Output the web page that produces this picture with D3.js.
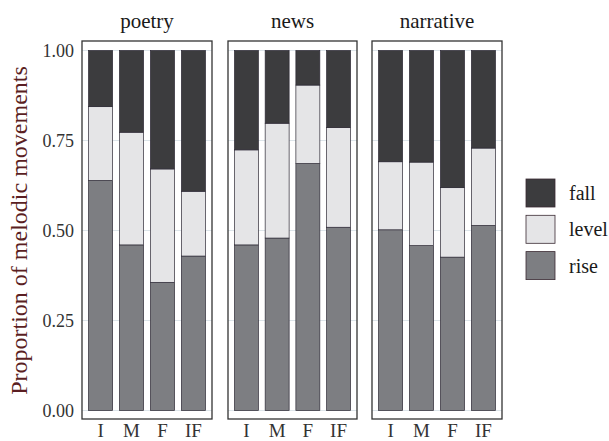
<!DOCTYPE html>
<html>
<head>
<meta charset="utf-8">
<script src="https://cdn.jsdelivr.net/npm/d3@7"></script>
<style>
  html, body { margin: 0; padding: 0; background: #ffffff; }
  svg { display: block; }
  svg text { font-family: "Liberation Serif", "DejaVu Serif", "Times New Roman", serif; }
</style>
</head>
<body>
<svg id="chart" width="609" height="441"></svg>
<script>
// ---- data ----
const genres = ["poetry", "news", "narrative"];
const positions = ["I", "M", "F", "IF"];
const movements = ["rise", "level", "fall"];
// proportions (rise, level) per genre x position; fall = remainder
const riseValues = {
  poetry:    [0.639, 0.460, 0.356, 0.429],
  news:      [0.460, 0.479, 0.686, 0.509],
  narrative: [0.502, 0.458, 0.426, 0.514]
};
const levelValues = {
  poetry:    [0.205, 0.313, 0.315, 0.180],
  news:      [0.264, 0.319, 0.218, 0.277],
  narrative: [0.189, 0.232, 0.193, 0.215]
};
const yTicks = [0, 0.25, 0.5, 0.75, 1.0];
const legendOrder = ["fall", "level", "rise"];

// ---- styling ----
const colors = { fall: "#3c3c3e", level: "#e5e5e7", rise: "#7d7e82" };

const svg = d3.select("#chart");

const panelX = [[82, 212], [228, 357], [372, 502]];
const panelTop = 41, panelBottom = 419;
const y = d3.scaleLinear().domain([0, 1]).range([410.5, 50.5]);

genres.forEach((g, gi) => {
  const [x0, x1] = panelX[gi];
  const x = d3.scaleBand().domain(positions).range([x0, x1])
    .paddingInner(0.22).paddingOuter(0.21);

  const rows = positions.map((p, i) => ({
    pos: p,
    rise: riseValues[g][i],
    level: levelValues[g][i],
    fall: 1 - riseValues[g][i] - levelValues[g][i]
  }));
  const stacked = d3.stack().keys(movements)(rows);

  const panel = svg.append("g");
  panel.append("rect")
    .attr("x", x0).attr("y", panelTop)
    .attr("width", x1 - x0).attr("height", panelBottom - panelTop)
    .attr("fill", "#ffffff");

  panel.selectAll("line.grid").data(yTicks).enter().append("line")
    .attr("x1", x0).attr("x2", x1)
    .attr("y1", d => y(d)).attr("y2", d => y(d))
    .attr("stroke", "#dde5ea").attr("stroke-width", 1);

  stacked.forEach(layer => {
    panel.selectAll(null).data(layer).enter().append("rect")
      .attr("x", d => x(d.data.pos))
      .attr("width", x.bandwidth())
      .attr("y", d => y(d[1]))
      .attr("height", d => y(d[0]) - y(d[1]))
      .attr("fill", colors[layer.key])
      .attr("stroke", "#2e2a36").attr("stroke-width", 0.7);
  });

  panel.append("rect")
    .attr("x", x0).attr("y", panelTop)
    .attr("width", x1 - x0).attr("height", panelBottom - panelTop)
    .attr("fill", "none").attr("stroke", "#333333").attr("stroke-width", 1.3);

  // strip title
  svg.append("text")
    .attr("x", (x0 + x1) / 2).attr("y", 28)
    .attr("text-anchor", "middle")
    .attr("font-size", 21)
    .attr("fill", "#1a1a1a")
    .text(g);

  // x tick labels
  svg.selectAll(null).data(positions).enter().append("text")
    .attr("x", d => x(d) + x.bandwidth() / 2)
    .attr("y", 437)
    .attr("text-anchor", "middle")
    .attr("font-size", 19)
    .attr("fill", "#333333")
    .text(d => d);
});

// y tick labels
svg.selectAll("text.ytick").data(yTicks).enter().append("text")
  .attr("class", "ytick")
  .attr("x", 74).attr("y", d => y(d))
  .attr("dy", "0.35em")
  .attr("text-anchor", "end")
  .attr("font-size", 18)
  .attr("fill", "#333333")
  .text(d => d3.format(".2f")(d));

// y axis title
svg.append("text")
  .attr("transform", "translate(27," + ((50.5 + 410.5) / 2) + ") rotate(-90)")
  .attr("text-anchor", "middle")
  .attr("font-size", 24)
  .attr("fill", "#5a1e22")
  .text("Proportion of melodic movements");

// legend
const legend = svg.append("g");
legendOrder.forEach((k, i) => {
  const ly = 179 + i * 36.3;
  legend.append("rect")
    .attr("x", 526).attr("y", ly)
    .attr("width", 29).attr("height", 28)
    .attr("fill", colors[k])
    .attr("stroke", "#3a2a32").attr("stroke-width", 0.8);
  legend.append("text")
    .attr("x", 569).attr("y", ly + 14)
    .attr("dy", "0.35em")
    .attr("font-size", 20)
    .attr("fill", "#1a1a1a")
    .text(k);
});
</script>
</body>
</html>
